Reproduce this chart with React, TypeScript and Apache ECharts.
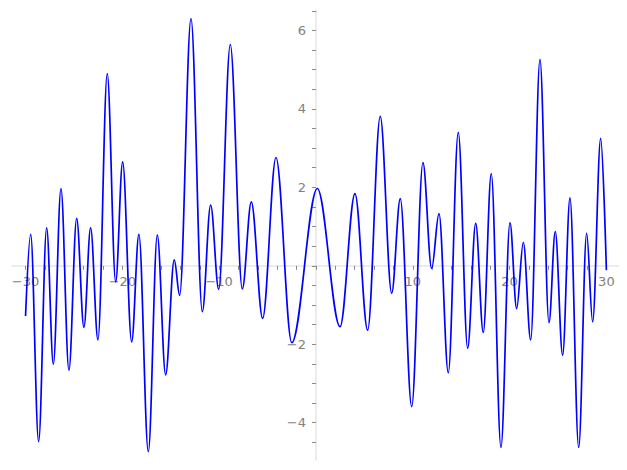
import React, { useEffect, useRef } from "react";
import * as echarts from "echarts";

// Curve turning points (x, y), plus the two end points
const xValues: number[] = [
  -30, -29.47, -28.65, -27.82, -27.13, -26.34, -25.52, -24.72, -23.97, -23.28,
  -22.52, -21.56, -20.69, -19.97, -19.04, -18.29, -17.32, -16.39, -15.53, -14.64,
  -14.08, -12.91, -11.74, -10.88, -10.05, -8.85, -7.61, -6.68, -5.51, -4.13,
  -2.5, 0.14, 2.49, 4.03, 5.34, 6.64, 7.82, 8.71, 9.89, 11.05,
  11.95, 12.71, 13.67, 14.7, 15.67, 16.5, 17.28, 18.11, 19.11, 20.04,
  20.73, 21.42, 22.18, 23.14, 24.07, 24.72, 25.48, 26.24, 27.14, 27.96,
  28.58, 29.41, 30,
];
const yValues: number[] = [
  -1.28, 0.8, -4.48, 0.97, -2.51, 1.97, -2.66, 1.21, -1.57, 0.97,
  -1.89, 4.9, -0.41, 2.65, -1.94, 0.8, -4.74, 0.78, -2.78, 0.15,
  -0.75, 6.3, -1.17, 1.55, -0.6, 5.64, -0.59, 1.63, -1.34, 2.76,
  -1.96, 1.97, -1.55, 1.84, -1.64, 3.81, -0.7, 1.71, -3.59, 2.63,
  -0.07, 1.33, -2.73, 3.4, -2.1, 1.08, -1.7, 2.35, -4.63, 1.1,
  -1.09, 0.6, -1.89, 5.26, -1.45, 0.87, -2.28, 1.73, -4.63, 0.83,
  -1.43, 3.25, -0.11,
];

const xTickLabels: number[] = [-30, -20, -10, 10, 20, 30];
const xTicks: number[] = [
  -30, -28, -26, -24, -22, -20, -18, -16, -14, -12, -10, -8, -6, -4, -2, 0,
  2, 4, 6, 8, 10, 12, 14, 16, 18, 20, 22, 24, 26, 28, 30,
];
const yTickLabels: number[] = [-4, -2, 2, 4, 6];
const yTicks: number[] = [
  -4.5, -4, -3.5, -3, -2.5, -2, -1.5, -1, -0.5, 0, 0.5, 1, 1.5, 2, 2.5, 3,
  3.5, 4, 4.5, 5, 5.5, 6, 6.5,
];

const X_MIN = -31.4;
const X_MAX = 31.2;
const Y_MIN = -4.95;
const Y_MAX = 6.52;

const fmt = (v: number) => String(v).replace("-", "\u2212");

export default function App() {
  const ref = useRef<HTMLDivElement>(null);
  useEffect(() => {
    if (!ref.current) return;
    const chart = echarts.init(ref.current, null, { renderer: "svg" });
    const W = 627;
    const H = 470;
    const gl = 12, gr = 9, gt = 10, gb = 10;
    const pw = W - gl - gr;
    const ph = H - gt - gb;
    const zeroX = gl + ((0 - X_MIN) / (X_MAX - X_MIN)) * pw;
    const zeroY = gt + ((Y_MAX - 0) / (Y_MAX - Y_MIN)) * ph;

    const labelStyle = {
      color: "#808080",
      fontSize: 13,
      fontFamily: "DejaVu Sans",
      formatter: (v: number) => fmt(v),
    };
    const hiddenAxis = (gridIndex: number) => ({
      type: "value",
      gridIndex,
      min: 0,
      max: 1,
      show: false,
    });
    const lineStyle = { color: "#e6e6e6", width: 1.5 };
    const tickStyle = { color: "#888888", width: 1 };

    chart.setOption({
      animation: false,
      backgroundColor: "#ffffff",
      grid: [
        { left: gl, right: gr, top: gt, bottom: gb, outerBoundsMode: "none", containLabel: false },
        { left: gl, right: gr, top: gt, bottom: H - zeroY, outerBoundsMode: "none", containLabel: false },
        { left: zeroX, right: gr, top: gt, bottom: gb, outerBoundsMode: "none", containLabel: false },
      ],
      xAxis: [
        {
          type: "value",
          gridIndex: 0,
          min: X_MIN,
          max: X_MAX,
          show: false,
        },
        {
          type: "value",
          gridIndex: 1,
          position: "bottom",
          min: X_MIN,
          max: X_MAX,
          splitLine: { show: false },
          axisLine: { show: true, onZero: false, lineStyle },
          axisTick: { show: true, customValues: xTicks, length: 4, lineStyle: tickStyle },
          axisLabel: { ...labelStyle, customValues: xTickLabels, margin: 9 },
        },
        hiddenAxis(2),
      ],
      yAxis: [
        {
          type: "value",
          gridIndex: 0,
          min: Y_MIN,
          max: Y_MAX,
          show: false,
        },
        hiddenAxis(1),
        {
          type: "value",
          gridIndex: 2,
          position: "left",
          min: Y_MIN,
          max: Y_MAX,
          splitLine: { show: false },
          axisLine: { show: true, onZero: false, lineStyle },
          axisTick: { show: true, customValues: yTicks, length: 4, lineStyle: tickStyle },
          axisLabel: { ...labelStyle, customValues: yTickLabels, margin: 10 },
        },
      ],
      series: [
        {
          type: "line",
          xAxisIndex: 0,
          yAxisIndex: 0,
          data: xValues.map((x, i) => [x, yValues[i]]),
          showSymbol: false,
          smooth: 0.35,
          smoothMonotone: "x",
          color: "#0000ff",
          lineStyle: { color: "#0000ff", width: 1.7 },
          z: 5,
        },
      ],
    });
    return () => chart.dispose();
  }, []);
  return (
    <div
      ref={ref}
      style={{ position: "fixed", left: 0, top: 0, width: 627, height: 470, background: "#fff" }}
    />
  );
}
